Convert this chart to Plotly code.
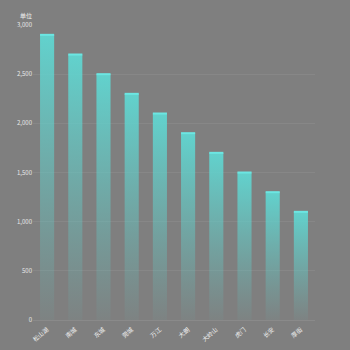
import plotly.graph_objects as go

categories = ["松山湖", "南城", "东城", "莞城", "万江", "大朗", "大岭山", "虎门", "长安", "厚街"]
values = [2900, 2700, 2500, 2300, 2100, 1900, 1700, 1500, 1300, 1100]
y_ticks = [0, 500, 1000, 1500, 2000, 2500, 3000]
unit_label = "单位"

BG = "#7f7f7f"
half = 0.25

fig = go.Figure()
for i, v in enumerate(values):
    fig.add_trace(go.Scatter(
        x=[i - half, i - half, i + half, i + half, i - half],
        y=[0, v, v, 0, 0],
        mode="lines", fill="toself",
        line=dict(width=0),
        fillgradient=dict(type="vertical",
                          colorscale=[[0, "rgba(100,200,196,0.05)"],
                                      [0.5, "rgba(98,208,203,0.5)"],
                                      [1, "rgba(96,214,209,0.95)"]]),
        hoverinfo="skip", showlegend=False))
    fig.add_trace(go.Scatter(
        x=[i - half, i + half], y=[v, v], mode="lines",
        line=dict(color="#6ce6e2", width=2),
        hovertemplate=f"{categories[i]}: {v}<extra></extra>", showlegend=False))

fig.update_layout(
    width=350, height=350,
    paper_bgcolor=BG, plot_bgcolor=BG,
    margin=dict(l=33, r=35, t=25, b=30),
    font=dict(family="Noto Sans CJK SC", color="#e8e8e8", size=6),
    xaxis=dict(range=[-0.5, len(categories) - 0.5],
               tickvals=list(range(len(categories))), ticktext=categories,
               tickangle=-40, showgrid=False, zeroline=False,
               showline=True, linecolor="#8a8a8a", linewidth=1,
               ticks="", ticklabelstandoff=3, automargin=False,
               tickfont=dict(size=6, color="#f0f0f0")),
    yaxis=dict(range=[0, 3000], tickvals=y_ticks, tickformat=",",
               showgrid=True, gridcolor="#878787", gridwidth=1,
               zeroline=False, showline=False, ticks="", automargin=False,
               tickfont=dict(size=6, color="#e8e8e8")),
    annotations=[dict(text=unit_label, xref="paper", yref="paper",
                      x=-0.025, y=1.0, yshift=10, xanchor="center", yanchor="middle",
                      showarrow=False, font=dict(size=6, color="#f0f0f0"))],
)

fig.write_html("out.html")
